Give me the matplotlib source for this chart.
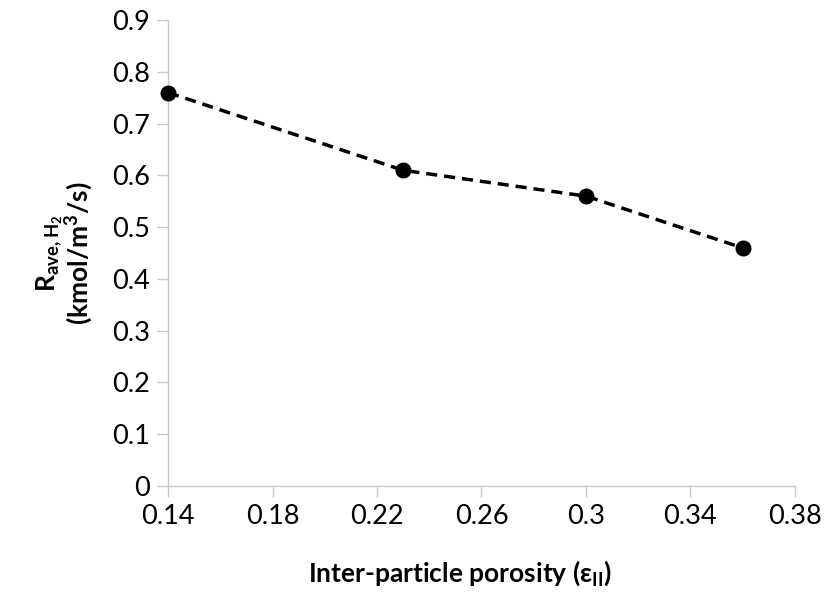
import matplotlib
matplotlib.use("Agg")
import matplotlib.pyplot as plt

# Average H2 production rate vs inter-particle porosity
porosity = [0.14, 0.23, 0.30, 0.36]
rate = [0.76, 0.61, 0.56, 0.46]

x_ticks = [0.14, 0.18, 0.22, 0.26, 0.30, 0.34, 0.38]
x_tick_labels = ["0.14", "0.18", "0.22", "0.26", "0.3", "0.34", "0.38"]
y_ticks = [0, 0.1, 0.2, 0.3, 0.4, 0.5, 0.6, 0.7, 0.8, 0.9]
y_tick_labels = ["0", "0.1", "0.2", "0.3", "0.4", "0.5", "0.6", "0.7", "0.8", "0.9"]

plt.rcParams["font.family"] = ["Lato", "DejaVu Sans"]
plt.rcParams["mathtext.default"] = "regular"

fig = plt.figure(figsize=(8.28, 5.92), dpi=100)
ax = fig.add_axes([0.203, 0.179, 0.757, 0.787])

ax.plot(porosity, rate, color="black", linewidth=2.5, linestyle=(0, (3.2, 2.0)),
        marker="o", markersize=10.5, clip_on=False, zorder=3)

ax.set_xlim(0.14, 0.38)
ax.set_ylim(0, 0.9)
ax.set_xticks(x_ticks)
ax.set_xticklabels(x_tick_labels)
ax.set_yticks(y_ticks)
ax.set_yticklabels(y_tick_labels)

grey = "#c8c8c8"
for side in ("top", "right"):
    ax.spines[side].set_visible(False)
for side in ("left", "bottom"):
    ax.spines[side].set_color(grey)
    ax.spines[side].set_linewidth(1.0)
ax.tick_params(axis="both", direction="out", length=8, width=1.0, color=grey,
               labelsize=19.5, labelcolor="black", pad=5)

ax.set_xlabel(r"Inter-particle porosity (ε$_{II}$)", fontsize=19,
              fontweight="bold")
ax.xaxis.set_label_coords(0.465, -0.155)
ax.set_ylabel("R$_{ave,H_2}$\n(kmol/m$^{3}$/s)", fontsize=19,
              fontweight="bold", labelpad=12, linespacing=0.95)

fig.savefig("out.png", dpi=100)
